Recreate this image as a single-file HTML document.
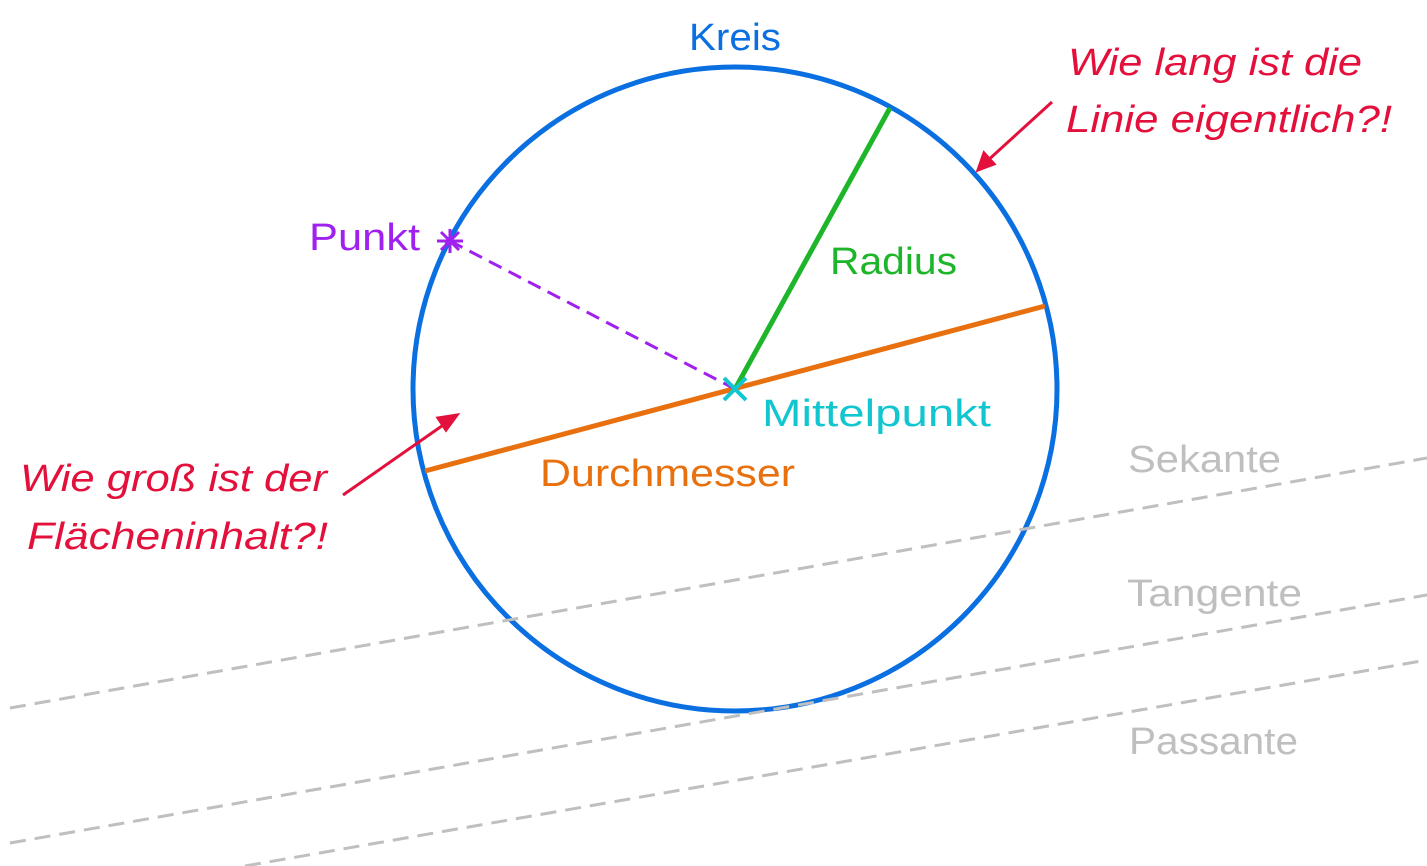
<!DOCTYPE html>
<html><head><meta charset="utf-8"><style>html,body{margin:0;padding:0;background:#fff}svg{display:block}</style></head><body>
<svg width="1427" height="866" viewBox="0 0 1427 866" xmlns="http://www.w3.org/2000/svg" font-family="Liberation Sans, sans-serif" font-size="38">
<circle cx="735" cy="389" r="322" fill="none" stroke="#0a6fe0" stroke-width="5"/>
<g stroke="#bfbfbf" stroke-width="3" stroke-dasharray="16,9" fill="none">
<line x1="10" y1="708" x2="1427" y2="458"/>
<line x1="10" y1="843" x2="1427" y2="595"/>
<line x1="245" y1="866" x2="1427" y2="660"/>
</g>
<line x1="735" y1="389" x2="890" y2="108" stroke="#1db52a" stroke-width="5"/>
<line x1="425" y1="471" x2="1045" y2="306" stroke="#e8700e" stroke-width="5"/>
<line x1="450" y1="241" x2="735" y2="389" stroke="#a020f0" stroke-width="3" stroke-dasharray="14,8"/>
<g stroke="#a020f0" stroke-width="3"><line x1="441" y1="232" x2="459" y2="250"/><line x1="459" y1="232" x2="441" y2="250"/><line x1="437" y1="241" x2="463" y2="241"/><line x1="450" y1="229" x2="450" y2="253"/></g>
<g stroke="#12c6d0" stroke-width="4"><line x1="724" y1="378" x2="746" y2="400"/><line x1="746" y1="378" x2="724" y2="400"/></g>
<g stroke="#e3103c" stroke-width="3" fill="#e3103c">
<line x1="1052" y1="102" x2="985" y2="163"/><polygon points="978,170 984,153 994,164"/>
<line x1="343" y1="495" x2="449" y2="421"/><polygon points="457,415 446,430 438,418"/>
</g>
<text x="689" y="50" fill="#0a6fe0" textLength="92" lengthAdjust="spacingAndGlyphs">Kreis</text>
<text x="309" y="250" fill="#a020f0" textLength="111" lengthAdjust="spacingAndGlyphs">Punkt</text>
<text x="830" y="274" fill="#1db52a" textLength="127" lengthAdjust="spacingAndGlyphs">Radius</text>
<text x="762" y="426" fill="#12c6d0" textLength="229" lengthAdjust="spacingAndGlyphs">Mittelpunkt</text>
<text x="540" y="486" fill="#e8700e" textLength="255" lengthAdjust="spacingAndGlyphs">Durchmesser</text>
<g fill="#bfbfbf">
<text x="1128" y="472" textLength="153" lengthAdjust="spacingAndGlyphs">Sekante</text>
<text x="1127" y="606" textLength="175" lengthAdjust="spacingAndGlyphs">Tangente</text>
<text x="1129" y="754" textLength="169" lengthAdjust="spacingAndGlyphs">Passante</text>
</g>
<g fill="#e3103c" font-style="italic">
<text x="1068" y="75" textLength="294" lengthAdjust="spacingAndGlyphs">Wie lang ist die</text>
<text x="1066" y="132" textLength="326" lengthAdjust="spacingAndGlyphs">Linie eigentlich?!</text>
<text x="20" y="491" textLength="307" lengthAdjust="spacingAndGlyphs">Wie groß ist der</text>
<text x="27" y="549" textLength="301" lengthAdjust="spacingAndGlyphs">Flächeninhalt?!</text>
</g>
</svg>
</body></html>
